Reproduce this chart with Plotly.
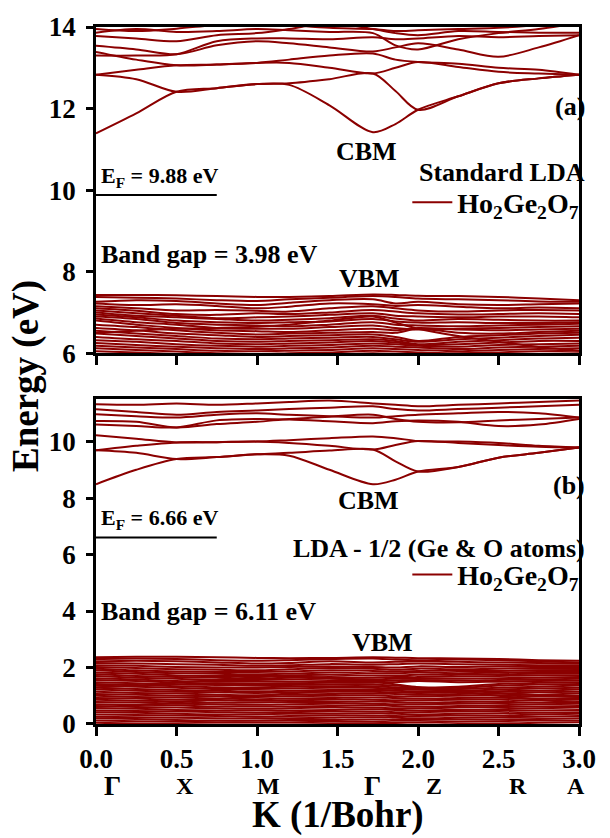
import plotly.graph_objects as go

# ---------------- data ----------------
k_path = [0.0, 0.25, 0.5, 0.75, 1.0, 1.2, 1.45, 1.72, 1.86, 2.0, 2.25, 2.5, 2.75, 3.0]
x_tick_vals = [0.0, 0.5, 1.0, 1.5, 2.0, 2.5, 3.0]
x_tick_text = ["0.0", "0.5", "1.0", "1.5", "2.0", "2.5", "3.0"]
sym_labels = ["Γ", "X", "M", "Γ", "Z", "R", "A"]
sym_k = [0.10, 0.55, 1.07, 1.72, 2.10, 2.62, 2.98]

# (a) Standard LDA, conduction bands (eV)
top_cb = [
    [11.39, 11.88, 12.41, 12.50, 12.60, 12.58, 12.08, 11.42, 11.62, 11.97, 12.30, 12.62, 12.74, 12.83],
    [12.83, 12.72, 12.41, 12.50, 12.60, 12.62, 12.72, 12.86, 12.43, 11.97, 12.30, 12.62, 12.74, 12.83],
    [12.83, 12.95, 13.06, 13.08, 13.12, 13.12, 13.00, 12.86, 13.00, 13.14, 13.02, 12.90, 12.86, 12.83],
    [13.39, 13.20, 13.06, 13.08, 13.12, 13.20, 13.30, 13.35, 13.20, 13.14, 13.10, 13.00, 12.95, 12.83],
    [13.54, 13.45, 13.33, 13.55, 13.65, 13.60, 13.50, 13.40, 13.50, 13.60, 13.45, 13.27, 13.50, 13.80],
    [13.30, 13.30, 13.33, 13.65, 13.72, 13.72, 13.70, 13.75, 13.70, 13.72, 13.78, 13.75, 13.78, 13.80],
    [13.78, 13.72, 13.65, 13.80, 13.85, 13.95, 14.10, 13.95, 13.85, 13.80, 13.90, 13.88, 13.86, 13.86],
    [13.86, 13.95, 13.88, 13.90, 13.95, 13.92, 13.88, 13.85, 13.55, 13.45, 13.70, 13.85, 13.95, 14.10],
    [13.95, 13.90, 13.96, 14.05, 14.10, 14.05, 13.98, 13.95, 13.90, 13.92, 13.95, 13.98, 14.05, 14.15],
]
# (a) valence bands (eV)
top_vb = [
    [7.43, 7.43, 7.42, 7.40, 7.38, 7.38, 7.40, 7.44, 7.43, 7.41, 7.40, 7.38, 7.34, 7.30],
    [7.38, 7.36, 7.34, 7.30, 7.28, 7.32, 7.36, 7.40, 7.38, 7.34, 7.32, 7.30, 7.27, 7.26],
    [7.26, 7.30, 7.28, 7.22, 7.18, 7.24, 7.30, 7.32, 7.22, 7.26, 7.20, 7.18, 7.20, 7.22],
    [7.22, 7.18, 7.20, 7.16, 7.10, 7.14, 7.22, 7.20, 7.16, 7.18, 7.14, 7.10, 7.12, 7.10],
    [7.15, 7.10, 7.05, 7.06, 7.04, 7.02, 7.10, 7.15, 7.10, 7.05, 7.02, 7.05, 7.06, 7.05],
    [7.10, 7.04, 6.96, 6.94, 6.98, 6.96, 7.00, 7.06, 7.02, 6.98, 6.95, 6.96, 6.98, 6.96],
    [7.05, 6.98, 6.92, 6.86, 6.88, 6.90, 6.94, 6.98, 6.92, 6.90, 6.88, 6.90, 6.90, 6.88],
    [7.00, 6.92, 6.88, 6.84, 6.80, 6.82, 6.86, 6.92, 6.85, 6.80, 6.84, 6.82, 6.80, 6.80],
    [6.95, 6.88, 6.80, 6.76, 6.74, 6.76, 6.78, 6.84, 6.78, 6.75, 6.76, 6.74, 6.74, 6.76],
    [6.90, 6.84, 6.74, 6.70, 6.68, 6.66, 6.70, 6.76, 6.70, 6.68, 6.66, 6.68, 6.70, 6.72],
    [6.85, 6.76, 6.70, 6.62, 6.60, 6.60, 6.64, 6.68, 6.62, 6.58, 6.60, 6.62, 6.64, 6.66],
    [6.80, 6.70, 6.62, 6.56, 6.54, 6.52, 6.56, 6.60, 6.56, 6.62, 6.58, 6.56, 6.58, 6.60],
    [6.70, 6.64, 6.56, 6.50, 6.46, 6.48, 6.50, 6.52, 6.50, 6.60, 6.50, 6.48, 6.52, 6.55],
    [6.62, 6.56, 6.48, 6.44, 6.40, 6.42, 6.44, 6.46, 6.40, 6.30, 6.40, 6.44, 6.48, 6.50],
    [6.55, 6.48, 6.42, 6.36, 6.34, 6.36, 6.38, 6.40, 6.34, 6.28, 6.34, 6.38, 6.42, 6.45],
    [6.48, 6.42, 6.36, 6.30, 6.28, 6.30, 6.32, 6.34, 6.30, 6.22, 6.28, 6.32, 6.36, 6.38],
    [6.40, 6.34, 6.30, 6.24, 6.22, 6.24, 6.26, 6.30, 6.26, 6.20, 6.22, 6.26, 6.30, 6.30],
    [6.32, 6.28, 6.22, 6.18, 6.16, 6.18, 6.20, 6.24, 6.22, 6.18, 6.16, 6.20, 6.22, 6.24],
    [6.25, 6.20, 6.16, 6.12, 6.10, 6.12, 6.14, 6.18, 6.16, 6.14, 6.10, 6.14, 6.16, 6.18],
    [6.18, 6.14, 6.10, 6.06, 6.05, 6.06, 6.08, 6.12, 6.10, 6.08, 6.05, 6.08, 6.10, 6.12],
    [6.12, 6.08, 6.04, 6.00, 5.98, 6.00, 6.02, 6.06, 6.04, 6.02, 6.00, 6.02, 6.05, 6.06],
    [6.05, 6.02, 5.98, 5.95, 5.92, 5.94, 5.96, 6.00, 5.98, 5.96, 5.95, 5.96, 5.98, 6.00],
    [6.50, 6.55, 6.60, 6.62, 6.65, 6.70, 6.80, 6.90, 6.75, 6.60, 6.42, 6.28, 6.15, 6.06],
]

# (b) LDA-1/2, conduction bands (eV)
bot_cb = [
    [8.49, 9.00, 9.38, 9.45, 9.55, 9.50, 9.00, 8.49, 8.65, 8.94, 9.10, 9.43, 9.60, 9.79],
    [9.69, 9.60, 9.38, 9.45, 9.55, 9.60, 9.68, 9.72, 9.30, 8.94, 9.10, 9.43, 9.60, 9.79],
    [9.69, 9.85, 9.97, 9.98, 10.00, 9.95, 9.85, 9.72, 9.88, 10.02, 9.95, 9.88, 9.82, 9.79],
    [10.22, 10.10, 9.97, 9.98, 10.00, 10.05, 10.12, 10.18, 10.12, 10.02, 10.00, 9.95, 9.85, 9.79],
    [10.60, 10.55, 10.50, 10.75, 10.80, 10.78, 10.72, 10.65, 10.72, 10.75, 10.70, 10.55, 10.60, 10.80],
    [10.73, 10.70, 10.50, 10.62, 10.70, 10.80, 10.88, 10.95, 10.80, 10.70, 10.68, 10.75, 10.80, 10.85],
    [10.97, 10.90, 10.85, 10.95, 11.00, 10.95, 10.90, 10.85, 10.90, 10.95, 11.00, 11.05, 11.00, 10.85],
    [11.14, 11.05, 10.95, 11.05, 11.10, 11.15, 11.20, 11.25, 11.15, 11.10, 11.15, 11.20, 11.25, 11.30],
    [11.32, 11.30, 11.35, 11.30, 11.35, 11.40, 11.45, 11.35, 11.30, 11.25, 11.30, 11.35, 11.40, 11.45],
]
# (b) valence bands (eV)
bot_vb = [
    [2.36, 2.38, 2.38, 2.36, 2.34, 2.33, 2.34, 2.36, 2.35, 2.33, 2.32, 2.30, 2.26, 2.24],
    [2.30, 2.32, 2.30, 2.26, 2.24, 2.26, 2.30, 2.32, 2.28, 2.26, 2.28, 2.26, 2.22, 2.18],
    [2.22, 2.24, 2.22, 2.18, 2.14, 2.16, 2.22, 2.18, 2.20, 2.22, 2.20, 2.18, 2.16, 2.14],
    [2.16, 2.14, 2.12, 2.10, 2.06, 2.08, 2.12, 2.10, 2.12, 2.14, 2.12, 2.10, 2.08, 2.08],
    [2.08, 2.06, 2.02, 2.00, 2.00, 2.02, 2.04, 2.02, 2.00, 2.04, 2.02, 2.04, 2.02, 2.02],
    [2.02, 1.98, 1.94, 1.92, 1.90, 1.94, 1.98, 1.96, 1.92, 1.96, 1.94, 1.96, 1.96, 1.95],
    [1.96, 1.90, 1.86, 1.84, 1.84, 1.86, 1.90, 1.88, 1.86, 1.88, 1.88, 1.88, 1.90, 1.90],
    [1.90, 1.84, 1.80, 1.78, 1.76, 1.78, 1.82, 1.80, 1.80, 1.82, 1.80, 1.82, 1.84, 1.84],
    [1.82, 1.78, 1.72, 1.70, 1.70, 1.72, 1.74, 1.72, 1.72, 1.74, 1.74, 1.76, 1.78, 1.78],
    [1.76, 1.70, 1.66, 1.64, 1.62, 1.64, 1.66, 1.64, 1.66, 1.66, 1.68, 1.70, 1.72, 1.72],
    [1.70, 1.64, 1.60, 1.56, 1.56, 1.58, 1.60, 1.58, 1.60, 1.60, 1.60, 1.62, 1.64, 1.66],
    [1.62, 1.58, 1.52, 1.50, 1.50, 1.50, 1.52, 1.52, 1.54, 1.56, 1.54, 1.56, 1.58, 1.60],
    [1.56, 1.52, 1.46, 1.44, 1.42, 1.44, 1.46, 1.46, 1.48, 1.52, 1.48, 1.50, 1.52, 1.54],
    [1.48, 1.44, 1.40, 1.38, 1.38, 1.38, 1.40, 1.40, 1.36, 1.30, 1.32, 1.42, 1.46, 1.48],
    [1.42, 1.38, 1.34, 1.30, 1.30, 1.32, 1.34, 1.34, 1.30, 1.26, 1.28, 1.36, 1.40, 1.42],
    [1.36, 1.32, 1.28, 1.24, 1.24, 1.26, 1.28, 1.28, 1.24, 1.22, 1.24, 1.28, 1.32, 1.36],
    [1.28, 1.24, 1.20, 1.18, 1.16, 1.18, 1.20, 1.20, 1.18, 1.16, 1.18, 1.22, 1.26, 1.28],
    [1.22, 1.18, 1.14, 1.12, 1.10, 1.12, 1.14, 1.14, 1.12, 1.10, 1.12, 1.16, 1.18, 1.22],
    [1.14, 1.10, 1.08, 1.04, 1.02, 1.04, 1.06, 1.08, 1.06, 1.04, 1.06, 1.08, 1.12, 1.14],
    [1.06, 1.04, 1.00, 0.98, 0.96, 0.98, 1.00, 1.02, 0.98, 0.98, 1.00, 1.02, 1.04, 1.08],
    [1.00, 0.96, 0.94, 0.90, 0.88, 0.90, 0.92, 0.94, 0.92, 0.90, 0.92, 0.94, 0.98, 1.00],
    [0.92, 0.90, 0.86, 0.84, 0.82, 0.84, 0.86, 0.86, 0.84, 0.84, 0.86, 0.88, 0.90, 0.92],
    [0.86, 0.82, 0.80, 0.76, 0.76, 0.78, 0.78, 0.80, 0.78, 0.76, 0.78, 0.80, 0.84, 0.86],
    [0.78, 0.76, 0.72, 0.70, 0.68, 0.70, 0.72, 0.72, 0.70, 0.70, 0.72, 0.74, 0.76, 0.78],
    [0.70, 0.68, 0.66, 0.62, 0.62, 0.62, 0.64, 0.66, 0.64, 0.62, 0.64, 0.66, 0.70, 0.72],
    [0.64, 0.60, 0.58, 0.56, 0.54, 0.56, 0.58, 0.58, 0.56, 0.56, 0.58, 0.60, 0.62, 0.64],
    [0.56, 0.54, 0.50, 0.48, 0.48, 0.48, 0.50, 0.52, 0.50, 0.48, 0.50, 0.52, 0.56, 0.58],
    [0.48, 0.46, 0.44, 0.42, 0.40, 0.42, 0.44, 0.44, 0.42, 0.42, 0.44, 0.46, 0.48, 0.50],
    [0.42, 0.40, 0.36, 0.34, 0.34, 0.36, 0.36, 0.38, 0.36, 0.34, 0.36, 0.38, 0.40, 0.42],
    [0.34, 0.32, 0.30, 0.28, 0.26, 0.28, 0.30, 0.30, 0.28, 0.28, 0.30, 0.30, 0.34, 0.36],
    [0.26, 0.24, 0.22, 0.20, 0.20, 0.20, 0.22, 0.24, 0.22, 0.20, 0.22, 0.24, 0.26, 0.28],
    [0.20, 0.18, 0.14, 0.12, 0.12, 0.14, 0.14, 0.16, 0.14, 0.14, 0.16, 0.16, 0.18, 0.20],
    [0.12, 0.10, 0.08, 0.06, 0.06, 0.06, 0.08, 0.08, 0.06, 0.06, 0.08, 0.10, 0.12, 0.12],
    [0.04, 0.02, 0.00, -0.02, -0.02, -0.02, 0.00, 0.02, 0.00, -0.02, 0.00, 0.02, 0.04, 0.06],
    [1.30, 1.36, 1.46, 1.56, 1.66, 1.70, 1.62, 1.50, 1.40, 1.30, 1.20, 1.10, 1.02, 0.96],
    [0.60, 0.66, 0.76, 0.88, 0.98, 1.08, 1.16, 1.22, 1.26, 1.24, 1.14, 1.00, 0.86, 0.74],
]

fermi_top = 9.88
fermi_bot = 6.66
fermi_bot_drawn = 6.60
fermi_k = [0.0, 0.75]
gap_top = 3.98
gap_bot = 6.11

# ---------------- style ----------------
BAND = "#8B0000"
FONT = "Liberation Serif, Times New Roman, serif"
formula = "Ho<sub>2</sub>Ge<sub>2</sub>O<sub>7</sub>&#160;&#160;"

fig = go.Figure()

def add_bands(bands, xa, ya, legend_name, show_first):
    for i, b in enumerate(bands):
        fig.add_trace(go.Scatter(
            x=k_path, y=b, mode="lines", xaxis=xa, yaxis=ya,
            line=dict(color=BAND, width=2, shape="spline", smoothing=0.9),
            name=formula, legend=legend_name,
            showlegend=(show_first and i == 0), hoverinfo="skip"))

add_bands(top_cb, "x", "y", "legend", True)
add_bands(top_vb, "x", "y", "legend", False)
add_bands(bot_cb, "x2", "y2", "legend2", True)
add_bands(bot_vb, "x2", "y2", "legend2", False)

fig.add_trace(go.Scatter(x=fermi_k, y=[fermi_top, fermi_top], mode="lines",
                         xaxis="x", yaxis="y", line=dict(color="black", width=2),
                         showlegend=False, hoverinfo="skip"))
fig.add_trace(go.Scatter(x=fermi_k, y=[fermi_bot_drawn, fermi_bot_drawn], mode="lines",
                         xaxis="x2", yaxis="y2", line=dict(color="black", width=2),
                         showlegend=False, hoverinfo="skip"))

axis_common = dict(showline=True, linewidth=2.5, linecolor="black", mirror=True,
                   ticks="outside", tickwidth=2.5, tickcolor="black",
                   showgrid=False, zeroline=False,
                   tickfont=dict(family=FONT, size=27, color="black", weight="bold"))

fig.update_layout(
    width=610, height=838,
    margin=dict(l=96, r=21, t=25, b=114),
    paper_bgcolor="white", plot_bgcolor="white",
    font=dict(family=FONT, color="black"),
    xaxis=dict(domain=[0, 1], range=[0, 3], anchor="y", tickvals=x_tick_vals,
               showticklabels=False, ticklen=9, **axis_common),
    yaxis=dict(domain=[0.532, 1], range=[6, 14], dtick=2, ticklen=7, anchor="x",
               ticklabelstandoff=5, **axis_common),
    xaxis2=dict(domain=[0, 1], range=[0, 3], anchor="y2", tickvals=x_tick_vals,
                ticktext=x_tick_text, ticklen=9, **axis_common),
    yaxis2=dict(domain=[0, 0.466], range=[0, 11.5], dtick=2, ticklen=7, anchor="x2",
                ticklabelstandoff=5, **axis_common),
    legend=dict(x=1.04, y=0.748, xanchor="right", yanchor="middle", bgcolor="rgba(0,0,0,0)",
                font=dict(family=FONT, size=28, color="black", weight="bold"), itemwidth=40),
    legend2=dict(x=1.04, y=0.214, xanchor="right", yanchor="middle", bgcolor="rgba(0,0,0,0)",
                 font=dict(family=FONT, size=28, color="black", weight="bold"), itemwidth=40),
)

def ann(text, x, y, xref, yref, size, xanchor="center", yanchor="middle", angle=0, xshift=0):
    fig.add_annotation(text=text, x=x, y=y, xref=xref, yref=yref, showarrow=False,
                       xanchor=xanchor, yanchor=yanchor, textangle=angle, xshift=xshift,
                       font=dict(family=FONT, size=size, color="black", weight="bold"))

# panel (a)
ann("(a)", 3.0, 12.04, "x", "y", 26, xanchor="right", xshift=8)
ann("CBM", 1.68, 10.94, "x", "y", 26)
ann("VBM", 1.70, 7.84, "x", "y", 26)
ann(f"E<sub>F</sub> = {fermi_top:.2f} eV", 0.02, 10.33, "x", "y", 22, xanchor="left")
ann(f"Band gap = {gap_top:.2f} eV", 0.02, 8.43, "x", "y", 26, xanchor="left")
ann("Standard LDA", 3.0, 10.42, "x", "y", 26, xanchor="right", xshift=8)

# panel (b)
ann("(b)", 3.0, 8.43, "x2", "y2", 26, xanchor="right", xshift=8)
ann("CBM", 1.69, 7.9, "x2", "y2", 26)
ann("VBM", 1.78, 2.89, "x2", "y2", 26)
ann(f"E<sub>F</sub> = {fermi_bot:.2f} eV", 0.02, 7.26, "x2", "y2", 22, xanchor="left")
ann(f"Band gap = {gap_bot:.2f} eV", 0.02, 4.0, "x2", "y2", 26, xanchor="left")
ann("LDA - 1/2 (Ge &amp; O atoms)", 3.0, 6.2, "x2", "y2", 26, xanchor="right", xshift=8)

# high-symmetry point labels
for lab, kk in zip(sym_labels, sym_k):
    ann(lab, kk, -0.089, "x2", "paper", 27 if lab == "Γ" else 24)

# axis titles
ann("K (1/Bohr)", 0.5, -0.163, "paper", "paper", 37, yanchor="bottom")
ann("Energy (eV)", -0.146, 0.5, "paper", "paper", 37, angle=-90)

fig.write_html("out.html")
